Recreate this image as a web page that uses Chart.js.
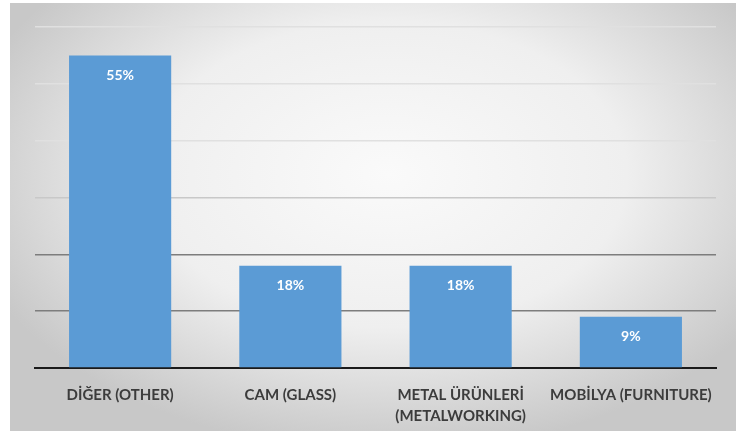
<!DOCTYPE html>
<html>
<head>
    <meta charset="utf-8">
    <title>Sektör Dağılımı</title>
    <script src="https://cdn.jsdelivr.net/npm/chart.js"></script>
    <style type="text/css">
        body { margin: 0; background: #ffffff; }
        .frame {
            position: absolute; left: 10px; top: 3px; width: 726px; height: 428px;
            background: radial-gradient(ellipse 60% 65% at 52% 40%, #fafafa 0%, #efefef 55%, #d5d5d5 85%, #c8c8c8 100%);
        }
        .chart-box { position: absolute; left: 0; top: 0; width: 742px; height: 435px; }
    </style>
</head>
<body>
    <div class="frame"></div>
    <div class="chart-box"><canvas id="myChart" width="742" height="435"></canvas></div>

    <script>
        const categories = [['DİĞER (OTHER)'], ['CAM (GLASS)'], ['METAL ÜRÜNLERİ', '(METALWORKING)'], ['MOBİLYA (FURNITURE)']];
        const shares = [55, 18, 18, 9];
        const yMax = 60;
        const yStep = 10;

        // white percentage label near the top of each bar
        const barLabels = {
            id: 'barLabels',
            afterDatasetsDraw(chart) {
                const ctx = chart.ctx;
                const meta = chart.getDatasetMeta(0);
                ctx.save();
                ctx.fillStyle = '#ffffff';
                ctx.font = 'bold 14px Lato, "Open Sans", sans-serif';
                ctx.textAlign = 'center';
                ctx.textBaseline = 'middle';
                meta.data.forEach((bar, i) => {
                    ctx.fillText(shares[i] + '%', bar.x, bar.y + 20);
                });
                ctx.restore();
            }
        };

        var ctx = document.getElementById('myChart').getContext('2d');
        var myChart = new Chart(ctx, {
            type: 'bar',
            data: {
                labels: categories,
                datasets: [{
                    data: shares,
                    backgroundColor: '#5b9bd5',
                    categoryPercentage: 1,
                    barPercentage: 0.6
                }]
            },
            options: {
                responsive: false,
                animation: false,
                devicePixelRatio: 1,
                layout: { padding: { left: 35, right: 26, top: 27, bottom: 0 } },
                plugins: { legend: { display: false }, tooltip: { enabled: false } },
                scales: {
                    x: {
                        grid: { display: false },
                        border: { color: '#1a1a1a', width: 2 },
                        afterFit: (scale) => { scale.height = 67; },
                        ticks: {
                            color: '#3c3c3c',
                            font: { family: 'Lato, "Open Sans", sans-serif', size: 15, weight: 'bold', lineHeight: 1.45 },
                            padding: 8,
                            maxRotation: 0
                        }
                    },
                    y: {
                        min: 0,
                        max: yMax,
                        ticks: { display: false, stepSize: yStep },
                        border: { display: false },
                        grid: {
                            drawTicks: false,
                            lineWidth: 1.5,
                            color: (c) => {
                                const v = c.tick ? c.tick.value : 0;
                                if (v <= 20) return '#7d7d7d';
                                if (v <= 30) return '#c8c8c8';
                                return '#e0e0e0';
                            }
                        }
                    }
                }
            },
            plugins: [barLabels]
        });
    </script>
</body>
</html>
